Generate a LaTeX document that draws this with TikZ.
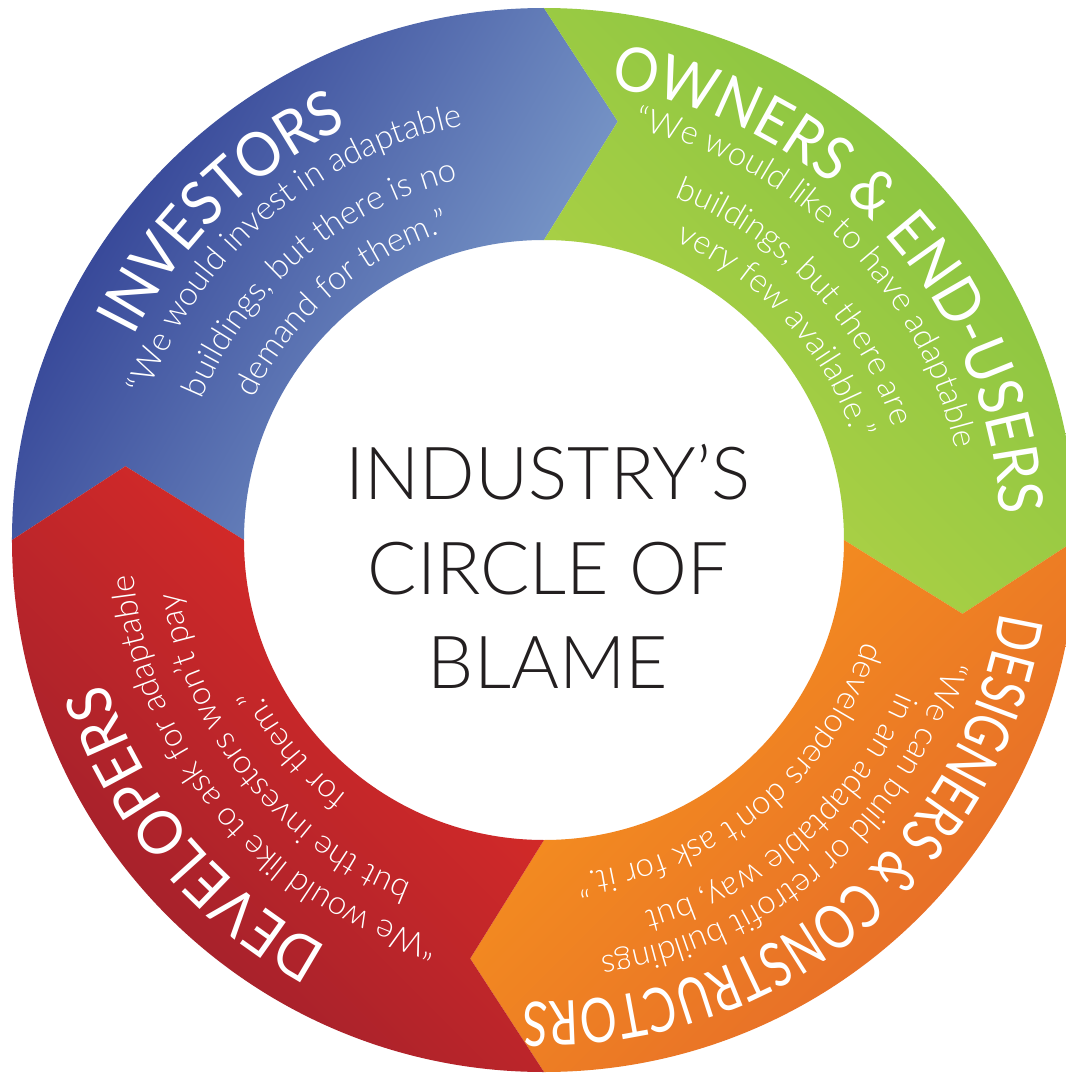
\documentclass[tikz,border=0pt]{standalone}
\usepackage{fontspec}
\usepackage{tikz}
\usetikzlibrary{decorations.text}
\setmainfont{Lato}
\newfontfamily\ringfont[FakeStretch=0.92]{Lato}
\newfontfamily\narrowfont[FakeStretch=0.75]{Lato}
\IfFontExistsTF{Lato Light}{\newfontfamily\thinfont{Lato Light}}{\newfontfamily\thinfont{Lato}}

\definecolor{invdark}{HTML}{2B3990}
\definecolor{invlight}{HTML}{84A5D0}
\definecolor{owndark}{HTML}{84C341}
\definecolor{ownlight}{HTML}{B4D346}
\definecolor{deslight}{HTML}{F8961D}
\definecolor{desdark}{HTML}{E4682A}
\definecolor{devlight}{HTML}{E52D27}
\definecolor{devdark}{HTML}{9A1F2C}
\definecolor{inkblack}{HTML}{231F20}

\newcommand{\titlefont}{\ringfont\fontsize{17.5}{17.5}\selectfont}
\newcommand{\quotefont}{\thinfont\fontsize{9.4}{9.4}\selectfont}
\newcommand{\centerfont}{\thinfont\fontsize{20.8}{26.9}\selectfont}

\tikzset{
  title line/.style={decorate, decoration={text along path, text align=center, text={|\titlefont\color{white}|#1}}},
  narrow line/.style={decorate, decoration={text along path, text align=center, text={|\narrowfont\fontsize{17.5}{17.5}\selectfont\color{white}|#1}}},
  quote line/.style={decorate, decoration={text along path, text align=center, text={|\quotefont\color{white}|#1}}},
}
\newcommand{\ringline}[4]{\path[#1={#4}] (#2+50:#3) arc[start angle=#2+50, end angle=#2-50, radius=#3];}

\begin{document}
\begin{tikzpicture}[x=0.01cm, y=0.01cm]

\fill[white, use as bounding box] (-544,-535) rectangle (522,540);

\shade[top color=invdark, bottom color=invlight, shading angle=60]
  (180:532) arc[start angle=180, end angle=90, radius=532] -- (80:425) -- (90:300)
  arc[start angle=90, end angle=180, radius=300] -- (170:425) -- cycle;
\shade[top color=owndark, bottom color=ownlight, shading angle=-45]
  (90:532) arc[start angle=90, end angle=0, radius=532] -- (-10:425) -- (0:300)
  arc[start angle=0, end angle=90, radius=300] -- (80:425) -- cycle;
\shade[top color=deslight, bottom color=desdark, shading angle=45]
  (0:532) arc[start angle=0, end angle=-90, radius=532] -- (-100:425) -- (-90:300)
  arc[start angle=-90, end angle=0, radius=300] -- (-10:425) -- cycle;
\shade[top color=devlight, bottom color=devdark, shading angle=-45]
  (-90:532) arc[start angle=-90, end angle=-180, radius=532] -- (170:425) -- (180:300)
  arc[start angle=180, end angle=270, radius=300] -- (-100:425) -- cycle;

\ringline{title line}{134.5}{458}{INVESTORS}
\ringline{quote line}{130.5}{422}{“We would invest in adaptable}
\ringline{quote line}{130.5}{370}{buildings, but there is no}
\ringline{quote line}{130.5}{323}{demand for them.”}

\ringline{title line}{42.4}{457}{OWNERS {\&} END-USERS}
\ringline{quote line}{45}{421}{“We would like to have adaptable}
\ringline{quote line}{43.5}{367}{buildings, but there are}
\ringline{quote line}{42}{326}{very few available.”}

\ringline{narrow line}{-50.8}{462}{DESIGNERS {\&} CONSTRUCTORS}
\ringline{quote line}{-49.4}{420}{“We can build or retrofit buildings}
\ringline{quote line}{-49}{385}{in an adaptable way, but}
\ringline{quote line}{-51}{335}{developers don’t ask for it.”}

\ringline{title line}{220}{461}{DEVELOPERS}
\ringline{quote line}{220}{412}{“We would like to ask for adaptable}
\ringline{quote line}{218.5}{368}{but the investors won’t pay}
\ringline{quote line}{219.8}{322}{for them.”}

\node[align=center, font=\centerfont, text=inkblack, inner sep=0pt] (blame) at (4,-26.5) {INDUSTRY’S\\CIRCLE OF\\BLAME};

\end{tikzpicture}
\end{document}
